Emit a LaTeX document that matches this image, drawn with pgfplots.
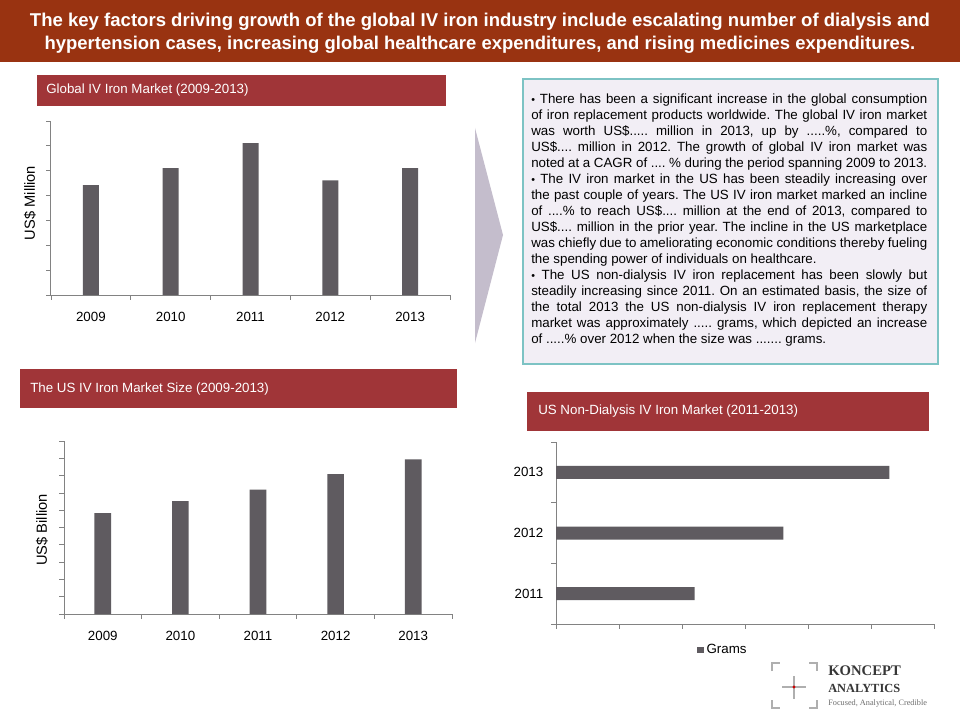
\documentclass[border=0pt]{standalone}
\usepackage{pgfplots}
\pgfplotsset{compat=1.18}
\usepackage{fontspec}
\setmainfont{Liberation Sans}
\newfontfamily\logofont{Liberation Serif}
\definecolor{titlebg}{RGB}{153,51,17}
\definecolor{headbg}{RGB}{160,53,56}
\definecolor{barc}{RGB}{95,91,96}
\definecolor{axc}{RGB}{130,130,130}
\definecolor{boxfill}{RGB}{242,238,245}
\definecolor{boxdraw}{RGB}{125,195,196}
\definecolor{arrowc}{RGB}{196,189,204}
\pgfplotsset{
  slide/.style={
    scale only axis, anchor=south west,
    axis x line*=bottom, axis y line*=left,
    axis line style={draw=axc, line width=0.75pt, -},
    tick align=outside, major tick length=3.5pt,
    tick style={draw=axc, line width=0.6pt},
    tick label style={font=\fontsize{10}{12}\selectfont, text=black},
    /pgf/number format/assume math mode=true,
    clip=false,
  }
}
\begin{document}
\frenchspacing
\begin{tikzpicture}[x=0.75pt,y=-0.75pt]
\fill[white] (0,0) rectangle (960,720);
% title band
\fill[titlebg] (0,0) rectangle (960,62);
\node[text=white, font=\bfseries\fontsize{12}{14}\selectfont, inner sep=0pt] at (480,22)
  {\resizebox{675pt}{!}{The key factors driving growth of the global IV iron industry include escalating number of dialysis and}};
\node[text=white, font=\bfseries\fontsize{12}{14}\selectfont, inner sep=0pt] at (480,45)
  {\resizebox{653pt}{!}{hypertension cases, increasing global healthcare expenditures, and rising medicines expenditures.}};
% headers
\fill[headbg] (37,75) rectangle (446,106);
\node[anchor=west, text=white, font=\fontsize{10}{12}\selectfont, inner sep=0pt] at (46,90) {Global IV Iron Market (2009-2013)};
\fill[headbg] (20,369) rectangle (457,408);
\node[anchor=west, text=white, font=\fontsize{10}{12}\selectfont, inner sep=0pt] at (30,389) {The US IV Iron Market Size (2009-2013)};
\fill[headbg] (527,392) rectangle (929,431);
\node[anchor=west, text=white, font=\fontsize{10}{12}\selectfont, inner sep=0pt] at (538,411) {US Non-Dialysis IV Iron Market (2011-2013)};
% arrow
\fill[arrowc] (475,128) -- (503,235) -- (475,343) -- cycle;
% text box
\filldraw[fill=boxfill, draw=boxdraw, line width=1.2pt] (523,79) rectangle (938,364);
\node[anchor=north west, inner sep=0pt, text width=297pt, align=justify, font=\fontsize{10}{12}\selectfont] at (531,94) {%
\hyphenpenalty=10000\exhyphenpenalty=10000%
{\footnotesize\textbullet} There has been a significant increase in the global consumption\linebreak
of iron replacement products worldwide. The global IV iron market\linebreak
was worth US\$..... million in 2013, up by .....\%, compared to\linebreak
US\$.... million in 2012. The growth of global IV iron market was\linebreak
noted at a CAGR of .... \% during the period spanning 2009 to 2013.\par
{\footnotesize\textbullet} The IV iron market in the US has been steadily increasing over\linebreak
the past couple of years. The US IV iron market marked an incline\linebreak
of ....\% to reach US\$.... million at the end of 2013, compared to\linebreak
US\$.... million in the prior year. The incline in the US marketplace\linebreak
was chiefly due to ameliorating economic conditions thereby fueling\linebreak
the spending power of individuals on healthcare.\par
{\footnotesize\textbullet} The US non-dialysis IV iron replacement has been slowly but\linebreak
steadily increasing since 2011. On an estimated basis, the size of\linebreak
the total 2013 the US non-dialysis IV iron replacement therapy\linebreak
market was approximately ..... grams, which depicted an increase\linebreak
of .....\% over 2012 when the size was ....... grams.};
% chart 1
\begin{axis}[slide, at={(38.25pt,-221.25pt)}, width=299.25pt, height=130.5pt,
  xmin=0.5, xmax=5.5, ymin=0, ymax=7,
  xtick={0.5,1.5,2.5,3.5,4.5,5.5}, xticklabels={},
  extra x ticks={1,2,3,4,5}, extra x tick labels={2009,2010,2011,2012,2013},
  extra x tick style={major tick length=0pt, xticklabel style={yshift=-9pt}},
  ytick={0,1,...,7}, yticklabels={},
  ybar, bar width=12pt,
  ylabel={US\$ Million},
  every axis y label/.style={at={(axis description cs:-0.0526,0.529)}, anchor=center, rotate=90, font=\fontsize{11}{13}\selectfont},
]
\addplot[fill=barc, draw=none] coordinates {(1,4.42) (2,5.10) (3,6.11) (4,4.61) (5,5.10)};
\end{axis}
% chart 2
\begin{axis}[slide, at={(48pt,-460.5pt)}, width=291pt, height=129.75pt,
  xmin=0.5, xmax=5.5, ymin=0, ymax=10,
  xtick={0.5,1.5,2.5,3.5,4.5,5.5}, xticklabels={},
  extra x ticks={1,2,3,4,5}, extra x tick labels={2009,2010,2011,2012,2013},
  extra x tick style={major tick length=0pt, xticklabel style={yshift=-9pt}},
  ytick={0,1,...,10}, yticklabels={},
  ybar, bar width=12.5pt,
  ylabel={US\$ Billion},
  every axis y label/.style={at={(axis description cs:-0.0567,0.486)}, anchor=center, rotate=90, font=\fontsize{11}{13}\selectfont},
]
\addplot[fill=barc, draw=none] coordinates {(1,5.83) (2,6.52) (3,7.19) (4,8.08) (5,8.94)};
\end{axis}
% chart 3
\begin{axis}[slide, at={(417pt,-468pt)}, width=283.5pt, height=136.5pt,
  xmin=0, xmax=6, ymin=0.5, ymax=3.5,
  xtick={0,1,...,6}, xticklabels={},
  ytick={0.5,1.5,2.5,3.5}, yticklabels={},
  extra y ticks={1,2,3}, extra y tick labels={2011,2012,2013},
  extra y tick style={major tick length=0pt, yticklabel style={xshift=-6pt}},
  xbar, bar width=9.75pt,
  legend style={at={(0.442,-0.143)}, anchor=center, draw=none, fill=none, font=\fontsize{10}{12}\selectfont, inner sep=0pt},
  legend image code/.code={\fill[barc] (0pt,-2.6pt) rectangle (5.2pt,2.6pt);},
]
\addplot[fill=barc, draw=none] coordinates {(2.20,1) (3.61,2) (5.29,3)};
\addlegendentry{Grams}
\end{axis}
% logo
\begin{scope}[draw={rgb,255:red,175;green,175;blue,175}, line width=0.8pt]
\draw (772,671)--(772,663)--(780,663);
\draw (809,663)--(817,663)--(817,671);
\draw (772,700)--(772,708)--(780,708);
\draw (809,708)--(817,708)--(817,700);
\draw (794,676)--(794,699);
\draw (782,687)--(806,687);
\end{scope}
\fill[red!80!black] (794,687) circle (1.6);
\node[anchor=west, inner sep=0pt, font=\logofont\bfseries\fontsize{11}{13}\selectfont, text={rgb,255:red,55;green,55;blue,55}] at (828,671) {KONCEPT};
\node[anchor=west, inner sep=0pt, font=\logofont\bfseries\fontsize{9.3}{11}\selectfont, text={rgb,255:red,55;green,55;blue,55}] at (828,688) {ANALYTICS};
\node[anchor=west, inner sep=0pt, font=\logofont\fontsize{6.2}{8}\selectfont, text={rgb,255:red,110;green,110;blue,110}] at (828,704) {Focused, Analytical, Credible};
\end{tikzpicture}
\end{document}
